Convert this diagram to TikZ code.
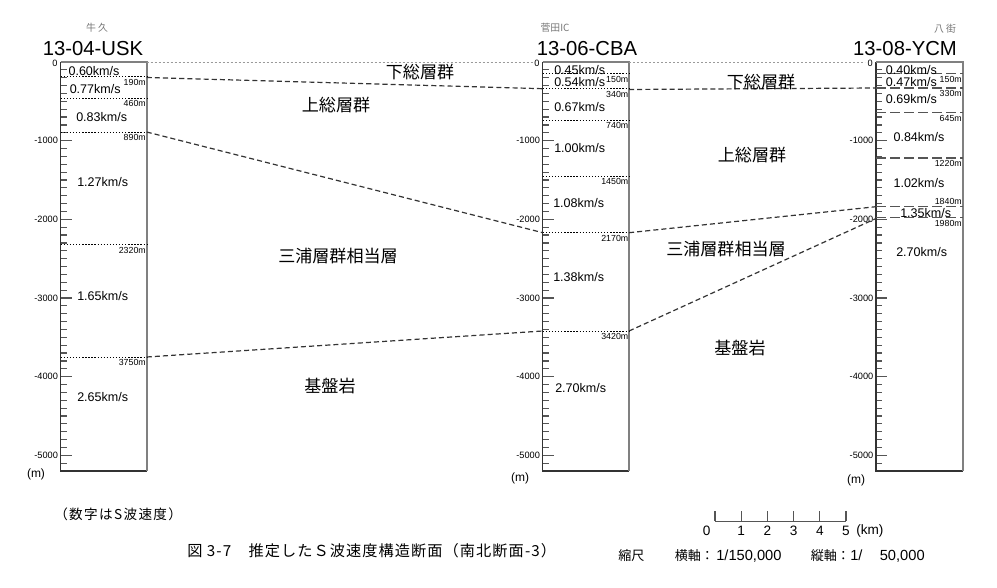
\documentclass[tikz,border=0pt]{standalone}
\usepackage{fontspec}
\setmainfont{Liberation Sans}
\newfontfamily\jp{Noto Sans CJK JP}
\newfontfamily\jpw[LetterSpace=7]{Noto Sans CJK JP}
\newfontfamily\jpn[LetterSpace=10]{Noto Sans CJK JP}
\definecolor{tickc}{HTML}{555555}
\definecolor{edgec}{HTML}{808080}
\definecolor{corrc}{HTML}{333333}
\definecolor{zeroc}{HTML}{9A9A9A}
\definecolor{stnc}{HTML}{777777}
\tikzset{
  title/.style={inner sep=0pt,anchor=base,text depth=0pt,font=\fontsize{15.2}{17}\selectfont},
  stn/.style={inner sep=0pt,text=stnc,font=\jp\fontsize{7.4}{8}\selectfont},
  vel/.style={anchor=west,inner sep=0pt,font=\fontsize{9.4}{11}\selectfont},
  dep/.style={anchor=east,inner sep=0pt,font=\fontsize{6.6}{8}\selectfont},
  axl/.style={anchor=east,inner sep=0pt,font=\fontsize{6.9}{8}\selectfont},
  unitlab/.style={inner sep=0pt,font=\fontsize{9}{10}\selectfont},
  layer/.style={inner sep=0pt,font=\jp\fontsize{12.8}{14}\selectfont},
  bnd/.style={line width=0.7pt,dash pattern=on 1pt off 1.3pt,black},
  bndr/.style={line width=0.9pt,dash pattern=on 7.5pt off 3pt,tickc},
  corr/.style={line width=0.9pt,dash pattern=on 3.8pt off 2.3pt,corrc},
  zeroline/.style={line width=0.7pt,dash pattern=on 1.4pt off 1.6pt,zeroc},
  tk/.style={line width=0.9pt,tickc},
  capt/.style={inner sep=0pt,font=\jpw\fontsize{11.4}{13}\selectfont},
  notel/.style={inner sep=0pt,font=\jpn\fontsize{10.2}{12}\selectfont},
  scl/.style={inner sep=0pt,anchor=west,font=\jp\fontsize{9.8}{11}\selectfont},
  snum/.style={inner sep=0pt,font=\fontsize{10.2}{12}\selectfont},
  sclnum/.style={inner sep=0pt,anchor=west,font=\fontsize{11}{12}\selectfont},
}
\begin{document}
\begin{tikzpicture}[x=0.75pt,y=-0.75pt]
\useasboundingbox (0,0) rectangle (997,588);
\fill[white] (0,0) rectangle (997,588);

% columns: ticks, frame, axis labels
\foreach \xl/\xr/\c in {60.7/146.7/L,542.7/629/M,876/962.7/R}{
  \foreach \d in {1,...,52}{
    \draw[tk] (\xl,62+\d*7.866) -- ++(6,0);
  }
  \foreach \k in {1,...,5}{
    \draw[tk] (\xl,62+\k*78.66) -- ++(11,0);
    \node[axl] (ax\c\k) at (\xl-2.5,62+\k*78.66) {-\k000};
  }
  \node[axl] (ax\c0) at (\xl-3,63) {0};
  \draw[line width=0.9pt,corrc] (\xl,62) -- (\xl,471) -- (\xr,471);
  \draw[line width=1.5pt,edgec] (\xl,62) -- (\xr,62) -- (\xr,471);
}

% zero line
\draw[zeroline] (146.7,62) -- (533,62);
\draw[zeroline] (629,62) -- (865,62);

% station titles
\node[stn] (s1) at (97,28) {牛 久};
\node[title] (t1) at (93,56) {13-04-USK};
\node[stn] (s2) at (555,28) {菅田IC};
\node[title] (t2) at (587,56) {13-06-CBA};
\node[stn] (s3) at (945,29) {八 街};
\node[title] (t3) at (905,56) {13-08-YCM};

% left column boundaries
\foreach \y/\t in {76.9/190m,98.2/460m,132.0/890m,244.5/2320m,357.0/3750m}{
  \draw[bnd] (60.7,\y) -- (146.7,\y);
  \node[dep] (dL\t) at (146,\y+5.5) {\t};
}
% middle column boundaries
\foreach \y/\t in {73.8/150m,88.7/340m,120.2/740m,176.1/1450m,232.7/2170m,331.0/3420m}{
  \draw[bnd] (542.7,\y) -- (629,\y);
  \node[dep] (dM\t) at (628.5,\y+5.5) {\t};
}
% right column boundaries
\foreach \y/\t in {73.8/150m,88.0/330m,112.7/645m,158.0/1220m,206.7/1840m,217.7/1980m}{
  \draw[bndr] (876,\y) -- (962.7,\y);
}
\node[dep] (dR150) at (962,79.3) {150m};
\node[dep] (dR330) at (962,93.5) {330m};
\node[dep] (dR645) at (962,118.2) {645m};
\node[dep] (dR1220) at (962,163.5) {1220m};
\node[dep] (dR1840) at (962,201.5) {1840m};
\node[dep] (dR1980) at (962,223.2) {1980m};

% velocities
\node[vel] (vL1) at (68.3,71.5) {0.60km/s};
\node[vel] (vL2) at (69.5,89) {0.77km/s};
\node[vel] (vL3) at (76,117) {0.83km/s};
\node[vel] (vL4) at (77,182) {1.27km/s};
\node[vel] (vL5) at (77,296.5) {1.65km/s};
\node[vel] (vL6) at (77,397) {2.65km/s};

\node[vel] (vM1) at (554,70) {0.45km/s};
\node[vel] (vM2) at (554,82.3) {0.54km/s};
\node[vel] (vM3) at (554,106.7) {0.67km/s};
\node[vel] (vM4) at (554,147.7) {1.00km/s};
\node[vel] (vM5) at (553,203.3) {1.08km/s};
\node[vel] (vM6) at (553,277.3) {1.38km/s};
\node[vel] (vM7) at (555,388) {2.70km/s};

\node[vel] (vR1) at (885.7,70) {0.40km/s};
\node[vel] (vR2) at (885.7,81.7) {0.47km/s};
\node[vel] (vR3) at (885.7,99.3) {0.69km/s};
\node[vel] (vR4) at (893.3,136.7) {0.84km/s};
\node[vel] (vR5) at (893.3,183.3) {1.02km/s};
\node[vel] (vR6) at (900,213.3) {1.35km/s};
\node[vel] (vR7) at (896,252) {2.70km/s};

% correlation points
\coordinate (La) at (146.7,77.5);
\coordinate (Lb) at (146.7,132.0);
\coordinate (Lc) at (146.7,357.0);
\coordinate (Mla) at (542.7,88.7);
\coordinate (Mlb) at (542.7,232.7);
\coordinate (Mlc) at (542.7,331.0);
\coordinate (Mra) at (629,89.5);
\coordinate (Mrb) at (629,232.7);
\coordinate (Mrc) at (629,331.0);
\coordinate (Ra) at (876,88.0);
\coordinate (Rb) at (876,206.7);
\coordinate (Rc) at (876,218.5);
\draw[corr] (La) -- (Mla);
\draw[corr] (Lb) -- (Mlb);
\draw[corr] (Lc) -- (Mlc);
\draw[corr] (Mra) -- (Ra);
\draw[corr] (Mrb) -- (Rb);
\draw[corr] (Mrc) -- (Rc);

% layer names
\node[layer] (g1) at (420,72) {下総層群};
\node[layer] (g2) at (761,82) {下総層群};
\node[layer] (k1) at (336,105) {上総層群};
\node[layer] (k2) at (752,155) {上総層群};
\node[layer] (m1) at (338,256) {三浦層群相当層};
\node[layer] (m2) at (726,249) {三浦層群相当層};
\node[layer] (b1) at (330,386) {基盤岩};
\node[layer] (b2) at (740,348) {基盤岩};

% units
\node[unitlab] (uL) at (36,474) {(m)};
\node[unitlab] (uM) at (520,478) {(m)};
\node[unitlab] (uR) at (856,480) {(m)};

% notes
\node[notel,anchor=west] (note) at (54,514) {（数字はS波速度）};
\node[capt,anchor=west] (caption) at (187,551) {図 3-7　推定したＳ波速度構造断面（南北断面-3）};

% scale bar
\draw[tk,line width=0.8pt] (715,521.3) -- (846,521.3);
\foreach \k in {0,...,5}{
  \draw[tk,line width=0.8pt] (715+\k*26.2,511) -- (715+\k*26.2,521.3);
}
\node[snum] (n0) at (706.7,531) {0};
\foreach \k in {1,...,5}{
  \node[snum] (n\k) at (715+\k*26.2,531) {\k};
}
\node[snum,anchor=west] (km) at (856,531) {(km)};
\node[scl] (sc1) at (618,556) {縮尺};
\node[scl] (sc2) at (674.5,556) {横軸：};
\node[sclnum] (sc2n) at (716,556) {1/150,000};
\node[scl] (sc3) at (810.5,556) {縦軸：};
\node[sclnum] (sc3n) at (850,556) {1/\kern13pt 50,000};
\end{tikzpicture}
\end{document}
